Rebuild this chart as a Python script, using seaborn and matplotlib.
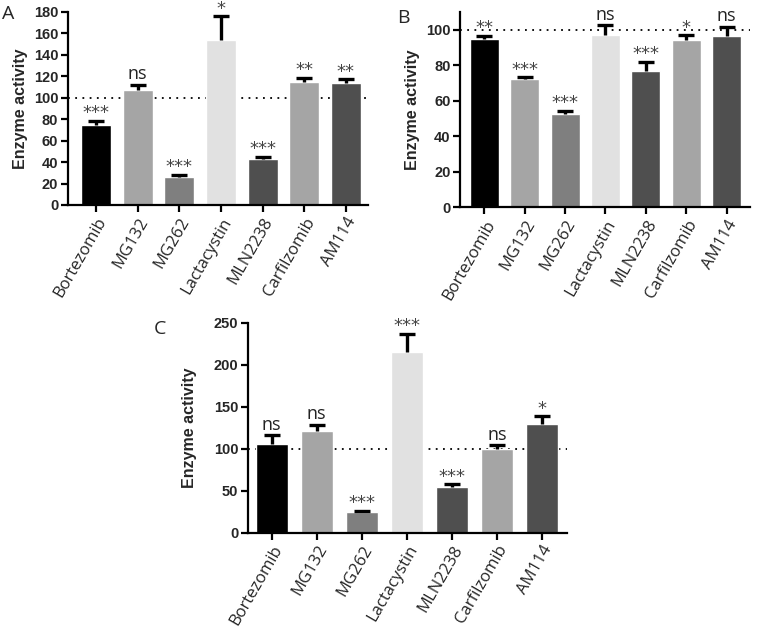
import numpy as np
import pandas as pd
import matplotlib
matplotlib.use("Agg")
import matplotlib.pyplot as plt
import seaborn as sns

# Drug names and bar colours (same for all three panels)
drugs = ["Bortezomib", "MG132", "MG262", "Lactacystin", "MLN2238", "Carfilzomib", "AM114"]
bar_colors = ["#000000", "#a5a5a5", "#7f7f7f", "#e1e1e1", "#4f4f4f", "#a5a5a5", "#4f4f4f"]

# Panel A
a_mean = [74.5, 107.5, 26.5, 153.5, 43.0, 115.0, 113.5]
a_err = [4.0, 4.5, 1.5, 22.5, 2.0, 3.5, 3.5]
a_sig = ["***", "ns", "***", "*", "***", "**", "**"]

# Panel B
b_mean = [95.0, 72.0, 52.5, 97.2, 76.5, 94.0, 96.2]
b_err = [1.5, 1.2, 1.7, 5.5, 5.3, 2.8, 5.5]
b_sig = ["**", "***", "***", "ns", "***", "*", "ns"]

# Panel C
c_mean = [106.0, 121.0, 24.5, 215.5, 54.5, 100.0, 129.0]
c_err = [10.0, 7.5, 1.5, 21.5, 2.8, 4.0, 9.5]
c_sig = ["ns", "ns", "***", "***", "***", "ns", "*"]

sns.set_style("ticks")
plt.rcParams["font.family"] = ["Liberation Sans", "DejaVu Sans"]

fig = plt.figure(figsize=(7.58, 6.28), dpi=100)


def draw_panel(ax, means, errs, sigs, ymax, yticks, xlim, letter, letter_pos, ylabelpad):
    df = pd.DataFrame({"drug": drugs, "activity": means})
    ax.axhline(100, color="black", linestyle=(0, (1, 3)), linewidth=1.3, zorder=0)
    sns.barplot(data=df, x="drug", y="activity", hue="drug", palette=bar_colors,
                errorbar=None, width=0.72, legend=False, ax=ax, zorder=2)
    x = np.arange(len(drugs))
    # upper-only error bars, hide the cap at the bar top
    eb = ax.errorbar(x, means, yerr=[np.zeros(len(errs)), errs], fmt="none",
                     ecolor="black", elinewidth=2.4, capsize=6, capthick=2.4, zorder=3)
    eb[1][0].set_visible(False)
    for xi, m, e, s in zip(x, means, errs, sigs):
        if s == "ns":
            ax.annotate(s, (xi, m + e), xytext=(0, 1), textcoords="offset points",
                        ha="center", va="bottom", fontsize=13, color="#222222",
                        family=["Open Sans", "DejaVu Sans"], annotation_clip=False)
        else:
            ax.annotate(s, (xi, m + e), xytext=(0, -1), textcoords="offset points",
                        ha="center", va="bottom", fontsize=13, color="#444444",
                        family=["DejaVu Sans"], annotation_clip=False)
    ax.set_ylim(0, ymax)
    ax.set_yticks(yticks)
    ax.set_xlim(*xlim)
    ax.set_xlabel("")
    ax.set_ylabel("Enzyme activity", fontsize=11.5, fontweight="bold", labelpad=ylabelpad)
    for lab in ax.get_yticklabels():
        lab.set_fontweight("bold")
        lab.set_fontsize(10.5)
    ax.set_xticks(x)
    ax.set_xticklabels(drugs, rotation=60, ha="right", rotation_mode="anchor",
                       fontsize=12, family=["Open Sans", "DejaVu Sans"])
    sns.despine(ax=ax)
    for sp in ["left", "bottom"]:
        ax.spines[sp].set_linewidth(1.6)
        ax.spines[sp].set_color("black")
    ax.tick_params(axis="both", width=1.6, length=5, color="black", pad=2)
    fig.text(letter_pos[0], letter_pos[1], letter, fontsize=14, ha="left", va="top",
             family=["Open Sans", "DejaVu Sans"])


ax_a = fig.add_axes([0.0897, 0.6736, 0.3958, 0.3074])
draw_panel(ax_a, a_mean, a_err, a_sig, 180, range(0, 181, 20), (-0.67, 6.53),
           "A", (0.003, 0.992), 4)

ax_b = fig.add_axes([0.607, 0.670, 0.382, 0.311])
draw_panel(ax_b, b_mean, b_err, b_sig, 110, range(0, 101, 20), (-0.6, 6.57),
           "B", (0.524, 0.985), 4)

ax_c = fig.add_axes([0.327, 0.152, 0.421, 0.334])
draw_panel(ax_c, c_mean, c_err, c_sig, 250, range(0, 251, 50), (-0.53, 6.56),
           "C", (0.203, 0.49), 12)

fig.savefig("out.png", dpi=100)
